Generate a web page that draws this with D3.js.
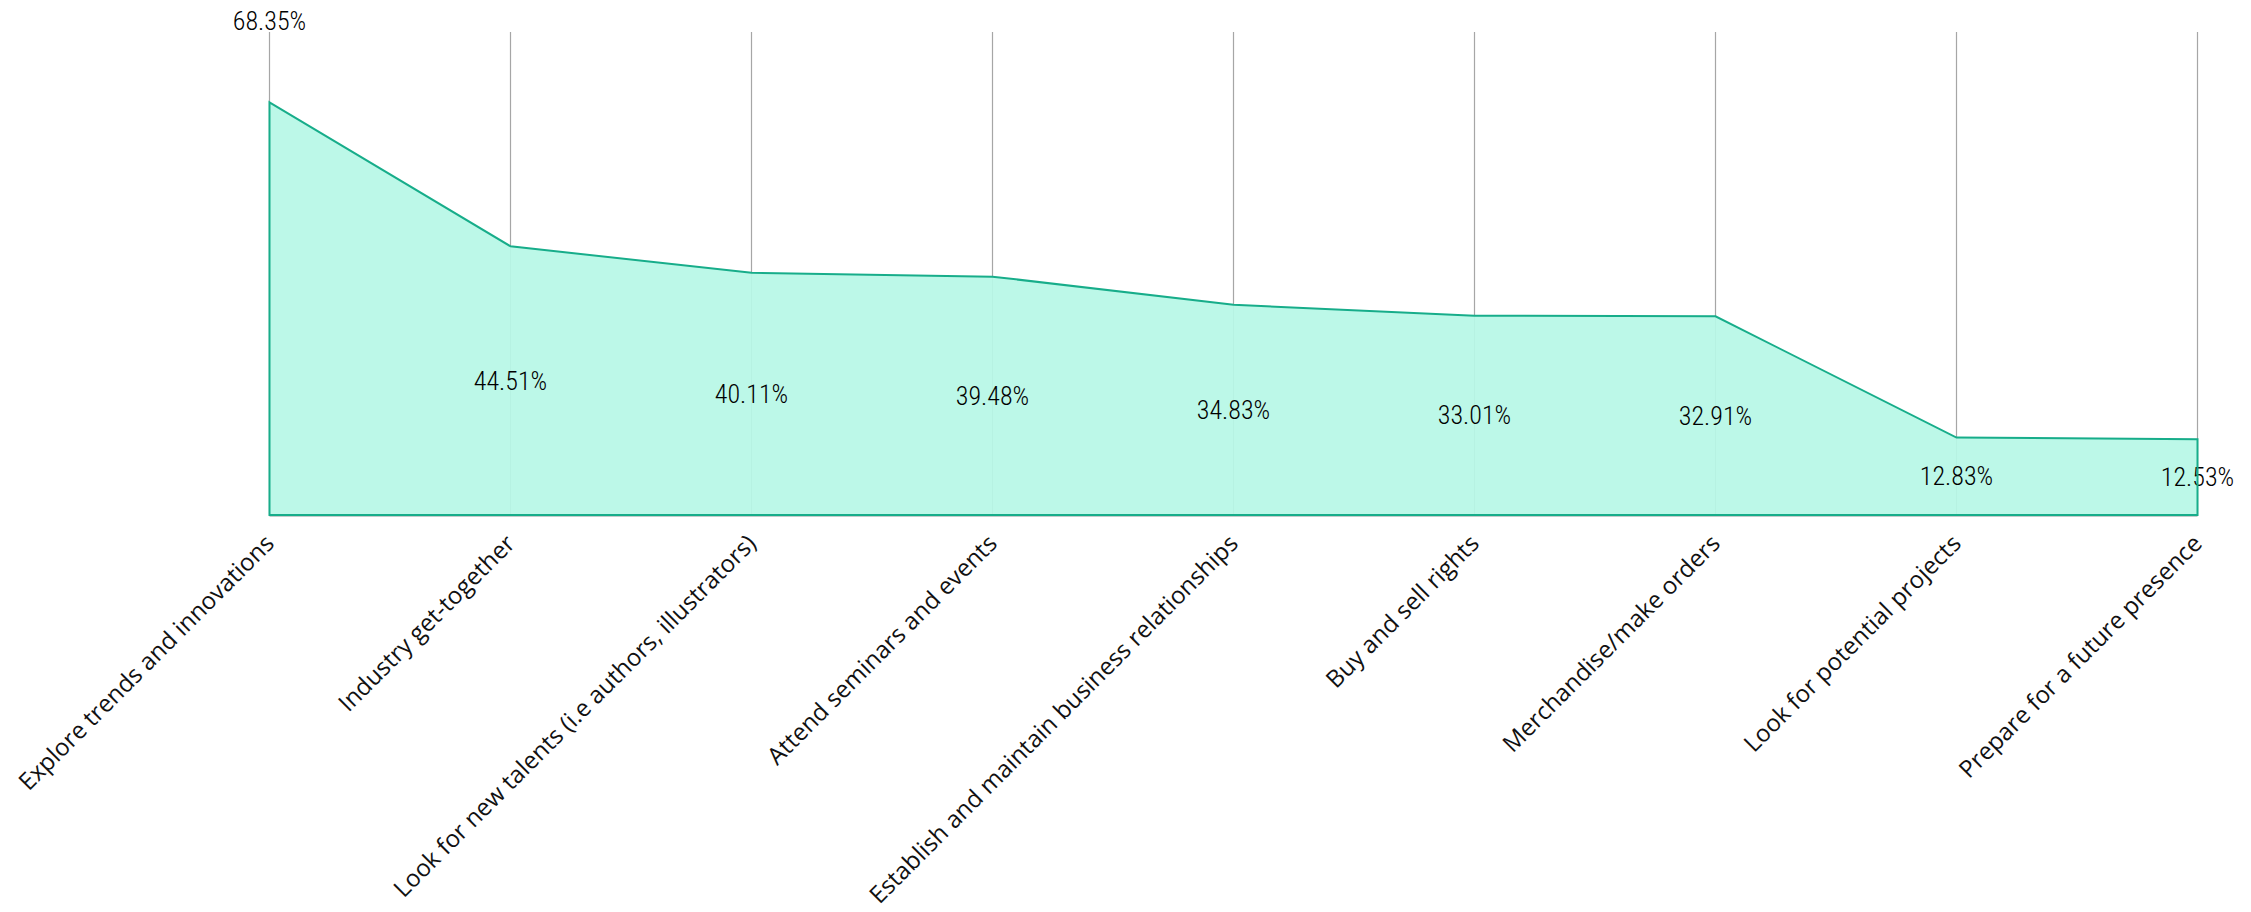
<!DOCTYPE html>
<html>
<head>
<meta charset="utf-8">
<script src="https://cdn.jsdelivr.net/npm/d3@7"></script>
<style>
	body { margin: 0; background: #fff; }
	.value { font-family: "Liberation Sans Narrow", "Roboto Condensed", "Roboto", sans-serif; font-size: 26px; font-weight: 300; fill: #000; }
	.cat { font-family: "Open Sans", sans-serif; font-size: 24px; font-weight: 400; fill: #111; }
</style>
</head>
<body>
<svg id="chart"></svg>
<script>
// data
const categories = [
	"Explore trends and innovations",
	"Industry get-together",
	"Look for new talents (i.e authors, illustrators)",
	"Attend seminars and events",
	"Establish and maintain business relationships",
	"Buy and sell rights",
	"Merchandise/make orders",
	"Look for potential projects",
	"Prepare for a future presence"
];
const values = [68.35, 44.51, 40.11, 39.48, 34.83, 33.01, 32.91, 12.83, 12.53];
const yDomain = [0, 80];

const width = 2251;
const height = 912;
const plotLeft = 269.5, plotRight = 2197.5;
const plotTop = 32, plotBottom = 515;

const svg = d3.select("#chart")
	.attr("width", width)
	.attr("height", height);

const data = categories.map((c, i) => ({ cat: c, value: values[i] }));

// scales
const x = d3.scalePoint()
	.domain(categories)
	.range([plotLeft, plotRight]);

const y = d3.scaleLinear()
	.domain(yDomain)
	.range([plotBottom, plotTop]);

// vertical grid lines at every category
svg.append("g")
	.selectAll("line")
	.data(categories)
	.enter()
	.append("line")
		.attr("x1", d => x(d))
		.attr("x2", d => x(d))
		.attr("y1", y(yDomain[1]))
		.attr("y2", y(0))
		.attr("stroke", "#a6a6a6")
		.attr("stroke-width", 1.2);

// baseline
svg.append("line")
	.attr("x1", plotLeft)
	.attr("x2", plotRight)
	.attr("y1", y(0) + 0.5)
	.attr("y2", y(0) + 0.5)
	.attr("stroke", "#8a9a96")
	.attr("stroke-width", 2);

// area
const area = d3.area()
	.x(d => x(d.cat))
	.y0(y(0))
	.y1(d => y(d.value));

// fill first, labels on it, outline on top
svg.append("path")
	.datum(data)
	.attr("d", area)
	.attr("fill", "#b7f7e6")
	.attr("fill-opacity", 0.93);

// value labels : first one sits above the plot, the others in the middle of the area
svg.append("g")
	.selectAll("text")
	.data(data)
	.enter()
	.append("text")
		.attr("class", "value")
		.attr("x", d => x(d.cat))
		.attr("y", (d, i) => i === 0 ? y(yDomain[1]) - 11 : (y(d.value) + y(0)) / 2)
		.attr("text-anchor", "middle")
		.attr("dominant-baseline", "central")
		.text(d => d.value.toFixed(2) + "%");

svg.append("path")
	.datum(data)
	.attr("d", area)
	.attr("fill", "none")
	.attr("stroke", "#17ad8a")
	.attr("stroke-width", 2)
	.attr("stroke-linejoin", "miter");

// category labels, rotated
svg.append("g")
	.selectAll("text")
	.data(categories)
	.enter()
	.append("text")
		.attr("class", "cat")
		.attr("text-anchor", "end")
		.attr("transform", d => "translate(" + (x(d) + 6) + "," + (y(0) + 30) + ") rotate(-45)")
		.text(d => d);
</script>
</body>
</html>
